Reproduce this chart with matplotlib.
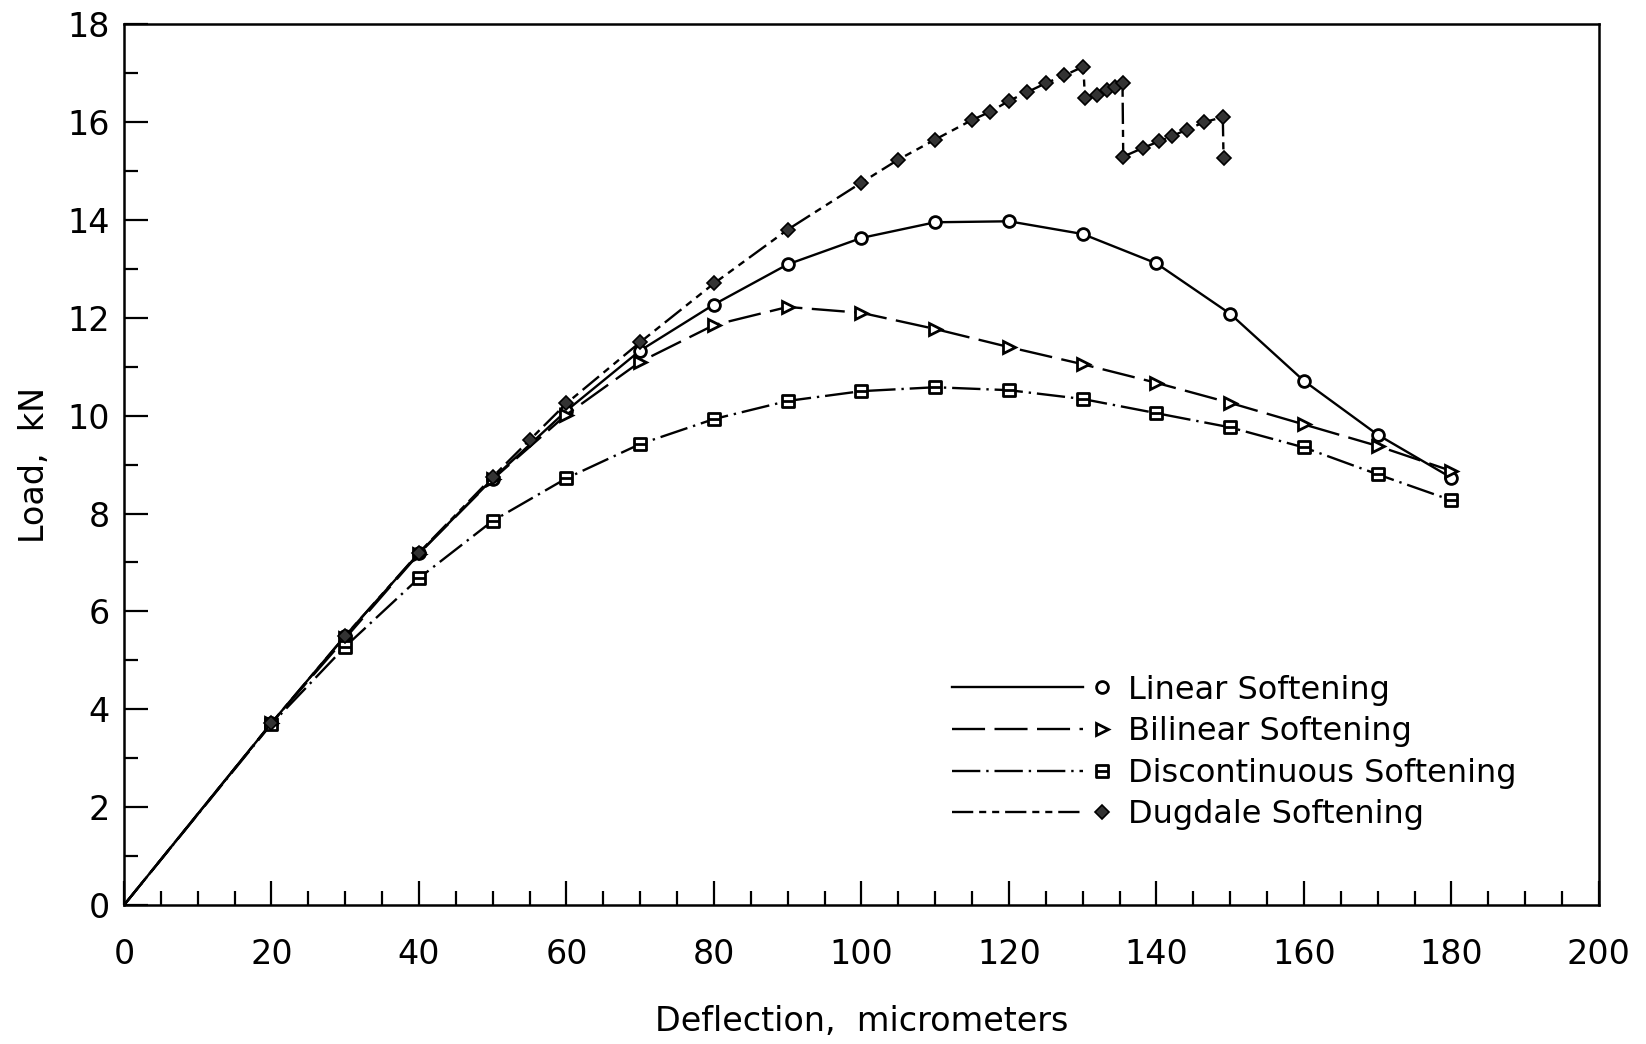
import matplotlib
matplotlib.use("Agg")
import matplotlib.pyplot as plt
from matplotlib.legend_handler import HandlerLine2D
from matplotlib.lines import Line2D
from matplotlib.path import Path
from matplotlib.ticker import MultipleLocator

plt.rcParams["font.family"] = ["DejaVu Sans"]

# deflection (micrometers) and load (kN)
x_main = [0, 20, 30, 40, 50, 60, 70, 80, 90, 100, 110, 120, 130, 140, 150, 160, 170, 180]
linear = [0, 3.72, 5.5, 7.19, 8.71, 10.1, 11.33, 12.27, 13.09, 13.63, 13.95, 13.97,
          13.71, 13.11, 12.08, 10.71, 9.61, 8.73]
bilinear = [0, 3.72, 5.45, 7.18, 8.7, 10.02, 11.1, 11.85, 12.22, 12.1, 11.77, 11.4,
            11.05, 10.67, 10.26, 9.82, 9.38, 8.87]
discont = [0, 3.7, 5.28, 6.68, 7.85, 8.72, 9.42, 9.93, 10.3, 10.5, 10.58, 10.52,
           10.34, 10.05, 9.76, 9.35, 8.8, 8.27]

x_dug = [0, 20, 30, 40, 50, 55, 60, 70, 80, 90, 100, 105, 110, 115, 117.5, 120, 122.5,
         125, 127.5, 130.1, 130.3, 131.9, 133.3, 134.4, 135.4, 135.5, 138.2, 140.3,
         142.1, 144.1, 146.4, 149.0, 149.1]
dugdale = [0, 3.72, 5.5, 7.2, 8.75, 9.5, 10.25, 11.5, 12.7, 13.8, 14.76, 15.23, 15.64,
           16.04, 16.21, 16.43, 16.61, 16.79, 16.95, 17.13, 16.48, 16.55, 16.66, 16.72,
           16.79, 15.29, 15.47, 15.6, 15.71, 15.84, 15.99, 16.1, 15.26]

labels = ["Linear Softening", "Bilinear Softening",
          "Discontinuous Softening", "Dugdale Softening"]

# square with a bar through the middle, like the plotter symbol
box_bar = Path([(-1, -1), (1, -1), (1, 1), (-1, 1), (-1, -1), (-1, 0), (1, 0)],
               [Path.MOVETO, Path.LINETO, Path.LINETO, Path.LINETO, Path.CLOSEPOLY,
                Path.MOVETO, Path.LINETO])


class EndMarkerHandler(HandlerLine2D):
    # line on the left, marker at the right end (plotter style legend)
    def create_artists(self, legend, orig_handle, xdescent, ydescent, width, height,
                       fontsize, trans):
        y = (height - ydescent) / 2
        line = Line2D([-xdescent, -xdescent + width * 0.82], [y, y])
        self.update_prop(line, orig_handle, legend)
        line.set_marker("None")
        mark = Line2D([-xdescent + width * 0.94], [y])
        self.update_prop(mark, orig_handle, legend)
        mark.set_linestyle("None")
        mark.set_markevery(None)
        line.set_transform(trans)
        mark.set_transform(trans)
        return [line, mark]


fig = plt.figure(figsize=(16.46, 10.44), dpi=100)
ax = fig.add_axes([0.0753, 0.133, 0.8961, 0.844])

lw = 1.7
ax.plot(x_main, linear, color="black", lw=lw, ls="-", marker="o", ms=8.5,
        mfc="white", mec="black", mew=2, markevery=slice(1, None), label=labels[0])
ax.plot(x_main, bilinear, color="black", lw=lw, dashes=(14, 4), marker=">", ms=9,
        mfc="white", mec="black", mew=2, markevery=slice(1, None), label=labels[1])
ax.plot(x_main, discont, color="black", lw=lw, dashes=(12, 2.5, 1, 2.5), marker=box_bar,
        ms=8.5, mfc="white", mec="black", mew=2, markevery=slice(1, None), label=labels[2])
ax.plot(x_dug, dugdale, color="black", lw=lw, dashes=(9, 2.5, 3, 2.5, 3, 2.5), marker="D",
        ms=7.5, mfc="#333333", mec="black", mew=1.2, markevery=slice(1, None), label=labels[3])

ax.set_xlim(0, 200)
ax.set_ylim(0, 18)
ax.xaxis.set_major_locator(MultipleLocator(20))
ax.xaxis.set_minor_locator(MultipleLocator(5))
ax.yaxis.set_major_locator(MultipleLocator(2))
ax.yaxis.set_minor_locator(MultipleLocator(1))

ax.tick_params(which="both", direction="in", top=False, right=False, width=1.6,
               labelsize=24)
ax.tick_params(which="major", length=17)
ax.tick_params(which="minor", length=10)
ax.tick_params(axis="x", pad=24)
ax.tick_params(axis="y", pad=10)
for s in ax.spines.values():
    s.set_linewidth(1.8)

ax.set_xlabel("Deflection,  micrometers", fontsize=24, labelpad=24)
ax.set_ylabel("Load,  kN", fontsize=24, labelpad=12)

ax.legend(loc="lower right", bbox_to_anchor=(0.944, 0.085), frameon=False,
          borderpad=0, borderaxespad=0, fontsize=23, handlelength=5.0,
          handletextpad=0.5, labelspacing=0.33,
          handler_map={Line2D: EndMarkerHandler()})

fig.savefig("out.png", dpi=100)
